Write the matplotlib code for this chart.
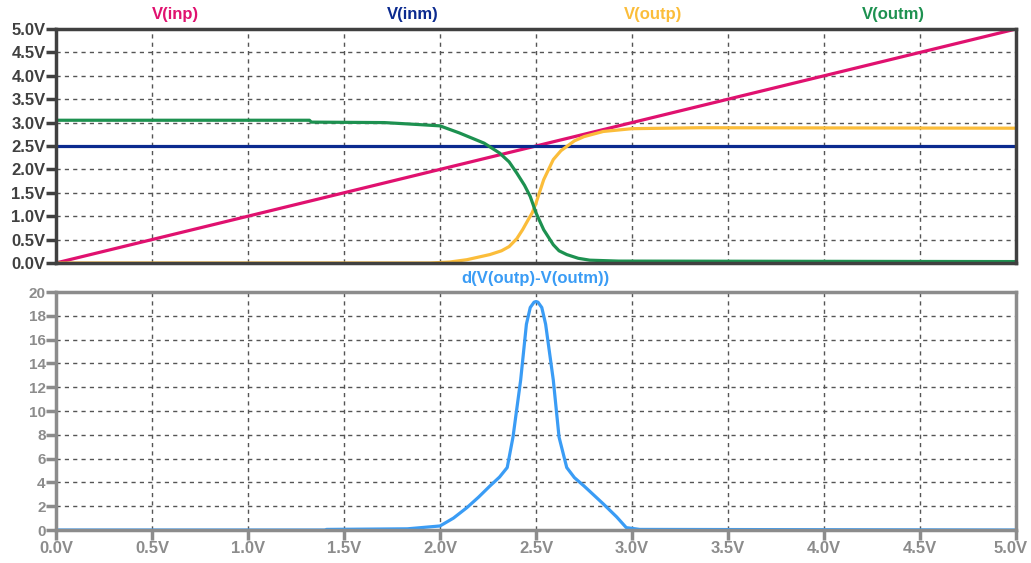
import matplotlib.pyplot as plt
import matplotlib.transforms as mtransforms
import numpy as np

plt.rcParams['font.family'] = ['Liberation Sans', 'DejaVu Sans']
plt.rcParams['font.weight'] = 'bold'

# sweep voltage (V)
v_inp_x = [0.0, 5.0]
v_inp = [0.0, 5.0]
v_inm_x = [0.0, 5.0]
v_inm = [2.5, 2.5]

outp_x = [0.0, 1.95, 2.05, 2.14, 2.26, 2.32, 2.36, 2.40, 2.43, 2.46, 2.48, 2.50, 2.54, 2.59, 2.63, 2.66, 2.70, 2.75, 2.85, 3.0, 3.35, 5.0]
outp = [0.0, 0.0, 0.02, 0.07, 0.18, 0.26, 0.35, 0.52, 0.71, 0.93, 1.07, 1.28, 1.78, 2.21, 2.40, 2.49, 2.61, 2.70, 2.81, 2.87, 2.89, 2.88]

outm_x = [0.0, 1.32, 1.33, 1.71, 1.88, 2.0, 2.10, 2.23, 2.31, 2.36, 2.40, 2.44, 2.47, 2.50, 2.54, 2.59, 2.62, 2.66, 2.72, 2.78, 2.93, 5.0]
outm = [3.05, 3.05, 3.01, 3.0, 2.96, 2.93, 2.78, 2.56, 2.35, 2.16, 1.92, 1.66, 1.42, 1.07, 0.71, 0.39, 0.26, 0.18, 0.10, 0.06, 0.04, 0.03]

d_x = [0.0, 1.40, 1.41, 1.83, 2.0, 2.07, 2.14, 2.20, 2.26, 2.31, 2.35, 2.38, 2.42, 2.45, 2.47, 2.49, 2.50, 2.51, 2.53, 2.55, 2.59, 2.62, 2.66, 2.70, 2.75, 2.85, 2.92, 2.97, 3.04, 5.0]
d_val = [0.0, 0.0, 0.05, 0.1, 0.34, 1.0, 1.88, 2.75, 3.7, 4.45, 5.25, 7.8, 12.6, 17.3, 18.7, 19.15, 19.2, 19.15, 18.7, 17.3, 12.6, 7.8, 5.25, 4.4, 3.7, 2.2, 1.1, 0.2, 0.05, 0.0]

xticks = np.arange(0, 5.01, 0.5)
xlabels = ['%.1fV' % t for t in xticks]
top_yticks = np.arange(0, 5.01, 0.5)
top_ylabels = ['%.1fV' % t for t in top_yticks]
bot_yticks = np.arange(0, 21, 2)

c_inp = '#e0116f'
c_inm = '#0b2a8f'
c_outp = '#fbbd3a'
c_outm = '#1d9150'
c_d = '#3a9cf5'

fig = plt.figure(figsize=(10.31, 5.63), dpi=100)
ax1 = fig.add_axes([0.0543, 0.5329, 0.9312, 0.4156])
ax2 = fig.add_axes([0.0543, 0.0586, 0.9312, 0.4227])

grid_kw = dict(color='#555555', linestyle=(0, (3, 3)), linewidth=1.0)

ax1.plot(v_inp_x, v_inp, color=c_inp, lw=2.3)
ax1.plot(v_inm_x, v_inm, color=c_inm, lw=2.3)
ax1.plot(outp_x, outp, color=c_outp, lw=2.3)
ax1.plot(outm_x, outm, color=c_outm, lw=2.3)
ax1.set_xlim(0, 5)
ax1.set_ylim(0, 5)
ax1.set_xticks(xticks)
ax1.set_yticks(top_yticks)
ax1.set_yticklabels(top_ylabels)
ax1.tick_params(axis='x', length=0, labelbottom=False)
ax1.tick_params(axis='y', length=7, width=2.5, color='#404040', labelsize=12, labelcolor='#404040', pad=0.5)
ax1.grid(True, **grid_kw)
for s in ax1.spines.values():
    s.set_color('#404040')
    s.set_linewidth(2.5)

title_y = 1 - 15 / 563
fig.text(175 / 1031, title_y, 'V(inp)', color=c_inp, ha='center', va='center', fontsize=12)
fig.text(413 / 1031, title_y, 'V(inm)', color=c_inm, ha='center', va='center', fontsize=12)
fig.text(653 / 1031, title_y, 'V(outp)', color=c_outp, ha='center', va='center', fontsize=12)
fig.text(893 / 1031, title_y, 'V(outm)', color=c_outm, ha='center', va='center', fontsize=12)

ax2.plot(d_x, d_val, color=c_d, lw=2.3)
ax2.set_xlim(0, 5)
ax2.set_ylim(0, 20)
ax2.set_xticks(xticks)
ax2.set_xticklabels(xlabels)
ax2.set_yticks(bot_yticks)
ax2.tick_params(axis='x', length=7, width=2.5, color='#8c8c8c', labelsize=12, labelcolor='#8c8c8c', pad=1)
ax2.tick_params(axis='y', length=7, width=2.5, color='#8c8c8c', labelsize=11, labelcolor='#8c8c8c', pad=0.5)
ax2.grid(True, **grid_kw)
for s in ax2.spines.values():
    s.set_color('#8c8c8c')
    s.set_linewidth(2.5)
fig.text(535 / 1031, 1 - 279 / 563, 'd(V(outp)-V(outm))', color=c_d, ha='center', va='center', fontsize=12)

# keep the last x label inside the figure edge
last = ax2.get_xticklabels()[-1]
last.set_transform(last.get_transform() + mtransforms.ScaledTranslation(-5 / 100, 0, fig.dpi_scale_trans))

fig.savefig('out.png', dpi=100)
